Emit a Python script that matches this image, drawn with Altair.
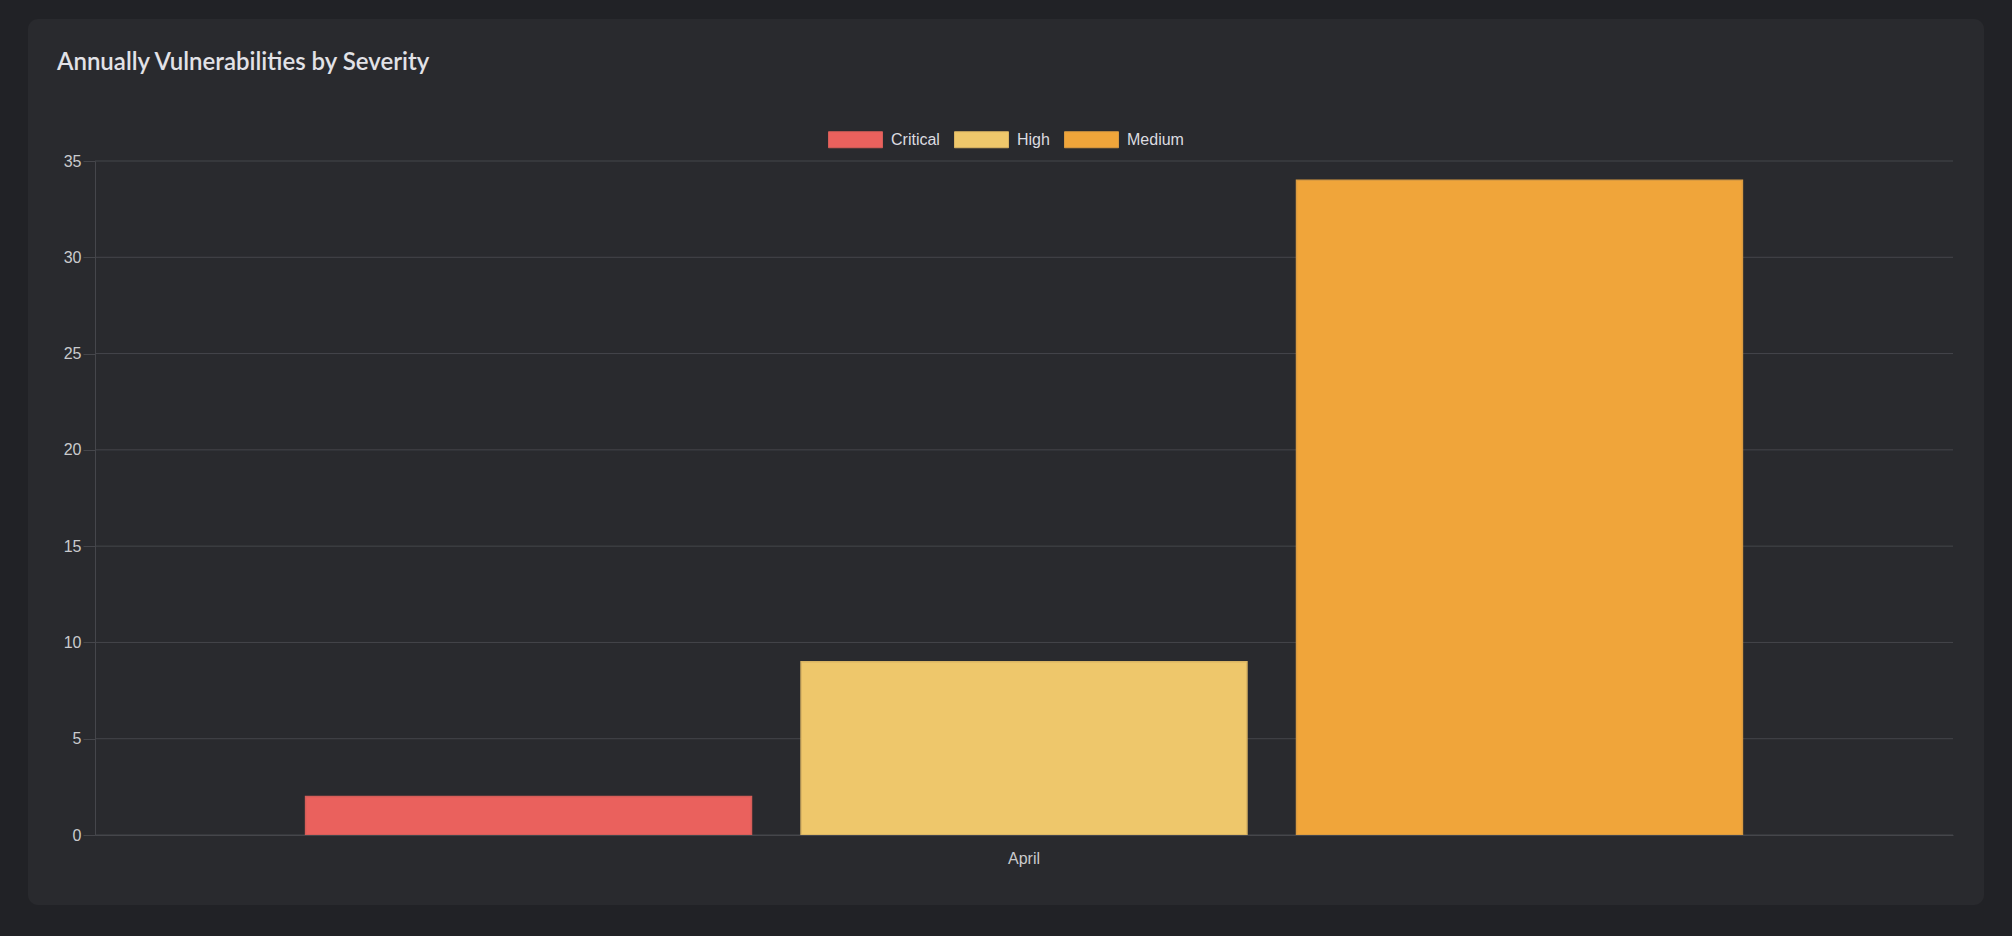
import altair as alt
import pandas as pd

# ---- data ----
months = ["April", "April", "April"]
severities = ["Critical", "High", "Medium"]
counts = [2, 9, 34]
fill_colors = ["#ea615d", "#eec76b", "#f0a53a"]
stroke_colors = ["#d45d58", "#d9b463", "#d99a40"]
y_ticks = [0, 5, 10, 15, 20, 25, 30, 35]
title_text = "Annually Vulnerabilities by Severity"

df = pd.DataFrame({"month": months, "severity": severities, "count": counts})
grid_df = pd.DataFrame({"tick": y_ticks})

PAGE_BG = "#212226"
CARD_BG = "#292a2e"
GRID = "#45464b"
TICK_LABEL = "#c9cacd"
LABEL_FONT = "Liberation Sans"

W, H = 1858, 674

y_scale = alt.Scale(domain=[0, 35], nice=False)
y_axis = alt.Axis(
    values=y_ticks, grid=False, zindex=1,
    domain=True, domainColor=GRID, domainWidth=1,
    ticks=True, tickColor=GRID, tickSize=12, tickWidth=1,
    labelFont=LABEL_FONT, labelFontSize=16, labelColor=TICK_LABEL,
    labelPadding=2,
)

card = alt.Chart(pd.DataFrame({"k": [0]})).mark_rect(
    color=CARD_BG, cornerRadius=10
).encode(
    x=alt.value(-67), x2=alt.value(1889), y=alt.value(-142), y2=alt.value(744)
)

grid = alt.Chart(grid_df).mark_rule(color=GRID, strokeWidth=1).encode(
    y=alt.Y("tick:Q", scale=y_scale, axis=y_axis, title=None),
    x=alt.value(0),
    x2=alt.value(W),
)

bars = alt.Chart(df).mark_bar(strokeWidth=1.5).encode(
    x=alt.X(
        "month:N",
        title=None,
        scale=alt.Scale(paddingInner=0, paddingOuter=0.125),
        axis=alt.Axis(
            labelAngle=0, ticks=False, grid=False, domain=True,
            domainColor=GRID, domainWidth=1, zindex=1,
            labelFont=LABEL_FONT, labelFontSize=16, labelColor=TICK_LABEL,
            labelPadding=15,
        ),
    ),
    xOffset=alt.XOffset(
        "severity:N", sort=severities,
        scale=alt.Scale(paddingInner=0.1, paddingOuter=0.05),
    ),
    y=alt.Y("count:Q", title=None, scale=y_scale, axis=y_axis),
    color=alt.Color(
        "severity:N", sort=severities,
        scale=alt.Scale(domain=severities, range=fill_colors),
        legend=alt.Legend(
            title=None, orient="none", legendX=733, legendY=-49,
            direction="horizontal",
            symbolType="M-1,-0.2963H1V0.2963H-1Z", symbolSize=2916,
            symbolStrokeWidth=1, symbolOpacity=1,
            labelFont=LABEL_FONT, labelFontSize=16, labelColor="#dcdce0",
            labelOffset=8, columnPadding=12, padding=0,
        ),
    ),
    stroke=alt.Stroke(
        "severity:N", sort=severities,
        scale=alt.Scale(domain=severities, range=stroke_colors),
    ),
)

chart = alt.layer(card, grid, bars).properties(
    width=W,
    height=H,
    title=alt.TitleParams(
        title_text, anchor="start", frame="group", dx=-38, dy=60,
        font="Lato", fontSize=24, fontWeight=600, color="#e2e2e7",
    ),
    autosize=alt.AutoSizeParams(type="none"),
    padding={"left": 95, "right": 59, "top": 161, "bottom": 101},
    background=PAGE_BG,
).configure_view(stroke=None)

chart.save("out.html", embed_options={"renderer": "svg", "actions": False})
